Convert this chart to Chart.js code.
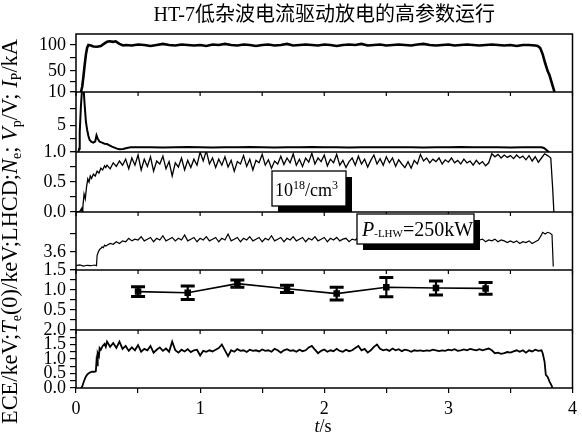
<!DOCTYPE html>
<html><head><meta charset="utf-8">
<script src="https://cdn.jsdelivr.net/npm/chart.js@4/dist/chart.umd.min.js"></script>
<style>html,body{margin:0;padding:0;background:#fff;}#wrap{width:582px;height:441px;}</style>
</head><body><div id="wrap"><canvas id="c" width="582" height="441"></canvas></div>
<script>
// ---------- text ----------
const chartTitle = 'HT-7低杂波电流驱动放电的高参数运行';

// ---------- x axis ----------
const xTicks = [0, 0.5, 1, 1.5, 2, 2.5, 3, 3.5, 4];
const xTickLabels = ['0', '', '1', '', '2', '', '3', '', '4'];

// ---------- y ticks per panel ----------
const ipTicks = [10, 30, 50, 75, 100];
const ipTickLabels = ['', '', '50', '', '100'];
const vpTicks = [1, 3, 5, 7.5, 10];
const vpTickLabels = ['1.0', '', '5', '', '10'];
const neTicks = [0, 0.25, 0.5, 0.75, 1];
const neTickLabels = ['0.0', '', '0.5', '', ''];
const lhTicks = [1.5, 3.6, 5.7];
const lhTickLabels = ['1.5', '3.6', ''];
const teTicks = [0, 0.25, 0.5, 0.75, 1, 1.25, 1.5];
const teTickLabels = ['', '', '0.5', '', '1.0', '', ''];
const eceTicks = [0, 0.25, 0.5, 0.75, 1, 1.25, 1.5, 1.75, 2];
const eceTickLabels = ['0.0', '', '0.5', '', '1.0', '', '1.5', '', '2.0'];

// ---------- Ip (kA) ----------
const ipEarly = [[0.04,10],[0.05,20],[0.06,40],[0.07,62],[0.08,82],[0.09,95],[0.1,100],[0.12,99],[0.14,97],[0.17,96.5],[0.2,98],[0.23,103],[0.25,106],[0.27,107],[0.3,106],[0.32,107],[0.35,102],[0.38,99]];
const ipPlateauStart = 0.4, ipPlateauStep = 0.05;
const ipPlateau = [
 100,99,101,100,98,100,102,100,99,101,
 100,99,100,98,101,100,102,100,99,101,
 100,98,100,101,99,100,102,99,100,101,
 100,99,101,100,98,100,101,100,102,99,
 100,101,99,100,101,100,99,101,102,100,
 99,100,101,99,100,101,100,99,100,101,
 100,99,100,98,100,100,99];
const ipEnd = [[3.72,98],[3.74,94],[3.76,82],[3.78,65],[3.8,50],[3.815,42],[3.83,30],[3.845,18],[3.855,10]];

// ---------- Vp (V) ----------
const vpEarly = [[0.02,1.0],[0.025,1.5],[0.03,4],[0.04,8],[0.05,10.8],[0.06,10.8],[0.07,8],[0.08,5.5],[0.09,4.3],[0.1,3.4],[0.11,2.8],[0.125,2.5],[0.14,2.4],[0.155,2.6],[0.165,3.5],[0.175,3.0],[0.19,2.55],[0.21,2.4],[0.23,2.25],[0.25,2.2],[0.27,2.0],[0.29,1.8],[0.31,1.65],[0.33,1.5],[0.35,1.4],[0.38,1.45],[0.41,1.6],[0.44,1.7]];
const vpPlateauStart = 0.5, vpPlateauStep = 0.1;
const vpPlateau = [1.7,1.72,1.68,1.7,1.75,1.7,1.68,1.72,1.7,1.74,1.7,1.68,1.72,1.7,1.75,1.7,1.72,1.68,1.7,1.73,1.7,1.72,1.7,1.68,1.72,1.7,1.74,1.7,1.72,1.7,1.68,1.72,1.7];
const vpEnd = [[3.75,1.72],[3.77,1.6],[3.79,1.3],[3.81,1.0]];

// ---------- Ne (10^18/cm^3) ----------
const neEarly = [[0.0,0],[0.03,0.01],[0.045,0.06],[0.05,-0.03],[0.055,0.08],[0.065,0.3],[0.075,0.22],[0.085,0.42],[0.095,0.55],[0.105,0.5],[0.115,0.6],[0.125,0.56],[0.14,0.63],[0.155,0.6],[0.17,0.68],[0.185,0.65],[0.2,0.73],[0.215,0.7],[0.23,0.77],[0.24,0.74]];
const nePlateauStart = 0.25, nePlateauStep = 0.025;
const nePlateau = [
 0.78,0.72,0.82,0.76,0.85,0.78,0.88,0.72,0.9,0.78,
 0.95,0.7,0.88,0.76,0.92,0.68,0.85,0.8,0.93,0.72,
 0.84,0.6,0.82,0.75,0.9,0.7,0.86,0.74,0.88,0.78,
 1.0,0.85,1.02,0.8,0.9,0.74,0.88,0.78,0.92,0.75,
 0.86,0.68,0.84,0.8,0.94,0.76,0.88,0.7,0.86,0.82,
 0.96,0.78,0.87,0.73,0.85,0.8,0.93,0.79,0.9,0.82,
 0.97,0.78,0.88,0.76,0.9,0.83,0.98,0.8,0.9,0.84,
 0.95,0.77,0.88,0.82,0.96,0.78,0.86,0.74,0.84,0.9,
 0.78,0.93,0.8,0.88,0.75,0.86,0.95,0.8,0.89,0.78,
 0.92,0.82,0.9,0.76,0.87,0.8,0.74,0.84,0.73,0.86,
 0.8,0.96,0.85,0.9,0.82,0.88,0.84,0.9,0.8,0.87,
 0.83,0.9,0.82,0.86,0.8,0.88,0.82,0.85,0.78,0.86,
 0.8,0.84,0.77,0.82,0.97,0.92,0.96,0.9,0.95,0.91,
 0.94,0.89,0.95,0.9,0.93,0.87,0.94,0.85,0.92,0.83];
const neEnd = [[3.75,0.9],[3.775,0.97],[3.8,0.94],[3.825,0.9],[3.84,0.4],[3.85,0]];

// ---------- LHCD ----------
const lhEarly = [[0,2.0],[0.03,2.1],[0.06,1.95],[0.09,2.05],[0.12,2.0],[0.15,2.08],[0.165,2.0],[0.17,3.2],[0.18,3.6],[0.19,3.9],[0.2,4.0],[0.21,4.2],[0.22,4.1],[0.23,4.4],[0.24,4.3]];
const lhPlateauStart = 0.25, lhPlateauStep = 0.025;
const lhPlateau = [
 4.4,4.6,4.5,4.8,4.6,4.9,4.8,5.2,4.9,5.1,
 5.0,5.4,4.9,5.1,5.3,4.8,5.2,5.0,5.5,4.9,
 5.1,5.3,4.9,5.2,5.0,5.6,4.9,5.1,5.3,4.8,
 5.2,5.0,5.4,4.9,5.1,5.3,4.8,5.2,5.0,5.7,
 4.9,5.1,5.3,4.8,5.2,5.0,5.4,4.9,5.1,5.3,
 4.8,5.2,5.0,5.5,4.9,5.1,5.3,4.8,5.2,5.0,
 5.4,4.9,5.1,5.3,4.8,5.2,5.0,5.4,4.9,5.1,
 5.3,4.8,5.2,5.0,5.3,4.9,5.1,5.2,4.8,5.1,
 5.0,5.3,4.9,5.1,5.2,4.8,5.1,5.0,5.3,4.9,
 5.1,5.2,4.8,5.1,5.0,5.3,4.9,5.1,5.2,4.8,
 5.1,5.0,5.3,4.9,5.1,5.2,4.8,5.1,5.0,5.2,
 4.9,5.1,5.0,5.2,4.8,5.0,5.1,4.9,5.2,4.8,
 5.0,5.1,4.8,5.0,4.9,5.1,4.8,5.0,4.9,4.7,
 4.9,4.7,4.9,4.6,4.8,4.7,4.9,4.6,4.8,5.0];
const lhEnd = [[3.75,5.6],[3.76,5.9],[3.78,5.7],[3.8,5.9],[3.82,5.8],[3.835,5.6],[3.845,1.9]];

// ---------- Te(0) (keV) with error bars ----------
const teTimes = [0.5, 0.9, 1.3, 1.7, 2.1, 2.5, 2.9, 3.3];
const teValues = [0.96, 0.93, 1.16, 1.03, 0.91, 1.07, 1.05, 1.04];
const teErrors = [0.12, 0.17, 0.09, 0.09, 0.16, 0.24, 0.175, 0.145];

// ---------- ECE (keV) ----------
const eceEarly = [[0.04,0],[0.05,0.05],[0.06,0.18],[0.07,0.3],[0.08,0.4],[0.09,0.46],[0.1,0.5],[0.115,0.54],[0.13,0.56],[0.15,0.56],[0.16,0.58],[0.165,0.92],[0.17,0.78],[0.175,1.2],[0.185,1.1],[0.19,1.38],[0.2,1.32],[0.215,1.45],[0.23,1.52],[0.24,1.42]];
const ecePlateauStart = 0.25, ecePlateauStep = 0.025;
const ecePlateau = [
 1.6,1.42,1.55,1.38,1.6,1.35,1.45,1.28,1.4,1.3,
 1.48,1.25,1.35,1.3,1.45,1.22,1.32,1.4,1.28,1.36,
 1.25,1.6,1.3,1.22,1.32,1.26,1.34,1.24,1.3,1.32,
 1.12,1.28,1.25,1.3,1.26,1.32,1.38,1.5,1.3,1.1,
 1.3,1.25,1.34,1.28,1.3,1.24,1.32,1.28,1.3,1.26,
 1.33,1.28,1.3,1.25,1.35,1.3,1.22,1.3,1.34,1.28,
 1.3,1.25,1.32,1.27,1.3,1.4,1.45,1.32,1.2,1.28,
 1.33,1.25,1.3,1.27,1.35,1.28,1.25,1.32,1.27,1.3,
 1.38,1.45,1.3,1.35,1.22,1.3,1.42,1.5,1.35,1.3,
 1.33,1.28,1.36,1.3,1.34,1.27,1.32,1.3,1.25,1.3,
 1.28,1.3,1.27,1.3,1.28,1.32,1.3,1.27,1.3,1.28,
 1.32,1.3,1.34,1.28,1.3,1.33,1.3,1.35,1.32,1.3,
 1.34,1.3,1.33,1.36,1.3,1.2,1.22,1.18,1.2,1.24,
 1.22,1.26,1.3,1.25,1.3,1.22,1.3,1.26,1.32,1.28];
const eceEnd = [[3.75,1.3],[3.76,1.2],[3.775,0.9],[3.785,0.45],[3.8,0.38],[3.815,0.22],[3.83,0.1],[3.84,0]];

// ---------- build point lists ----------
function trace(early, start, step, vals, end) {
  const mid = vals.map((v, i) => [Math.round((start + i * step) * 1000) / 1000, v]);
  return early.concat(mid, end).map(p => ({x: p[0], y: p[1]}));
}
const ipData = trace(ipEarly, ipPlateauStart, ipPlateauStep, ipPlateau, ipEnd);
const vpData = trace(vpEarly, vpPlateauStart, vpPlateauStep, vpPlateau, vpEnd);
const neData = trace(neEarly, nePlateauStart, nePlateauStep, nePlateau, neEnd);
const lhData = trace(lhEarly, lhPlateauStart, lhPlateauStep, lhPlateau, lhEnd);
const eceData = trace(eceEarly, ecePlateauStart, ecePlateauStep, ecePlateau, eceEnd);
const teData = teTimes.map((t, i) => ({x: t, y: teValues[i]}));

const SERIF = '"Liberation Serif", "Times New Roman", serif';
const tickFont = {family: SERIF, size: 18};

function yAxis(min, max, ticks, labels, weight, h) {
  return {
    type: 'linear', position: 'left', stack: 'panels', stackWeight: h, weight: weight,
    min: min, max: max,
    afterFit: s => { s.width = 76; },
    afterBuildTicks: s => { s.ticks = ticks.map(v => ({value: v})); },
    ticks: {autoSkip: false, color: '#000', font: tickFont, padding: 4,
      callback: (v, i) => labels[i]},
    grid: {drawOnChartArea: false, drawTicks: true, tickLength: 6, color: '#000', lineWidth: 1.2},
    border: {display: false}
  };
}

const decor = {
  id: 'decor',
  beforeDraw(chart) {
    const c = chart.ctx;
    c.save(); c.fillStyle = '#fff'; c.fillRect(0, 0, chart.width, chart.height); c.restore();
  },
  afterDatasetsDraw(chart) {
    const c = chart.ctx, a = chart.chartArea, s = chart.scales;
    c.save();
    c.strokeStyle = '#000';
    teTimes.forEach((t, i) => {
      const x = s.x.getPixelForValue(t);
      const y1 = s.yTe.getPixelForValue(teValues[i] + teErrors[i]);
      const y2 = s.yTe.getPixelForValue(teValues[i] - teErrors[i]);
      c.lineWidth = 2.2;
      c.beginPath(); c.moveTo(x, y1); c.lineTo(x, y2); c.stroke();
      c.lineWidth = 3;
      c.beginPath(); c.moveTo(x - 7, y1); c.lineTo(x + 7, y1); c.moveTo(x - 7, y2); c.lineTo(x + 7, y2); c.stroke();
    });
    c.lineWidth = 1.5;
    c.strokeRect(a.left, a.top, a.right - a.left, a.bottom - a.top);
    ['yIp', 'yVp', 'yNe', 'yLH', 'yTe'].forEach(id => {
      const y = s[id].bottom;
      c.beginPath(); c.moveTo(a.left, y); c.lineTo(a.right, y); c.stroke();
    });
    c.lineWidth = 1.2;
    ['yIp', 'yNe', 'yLH', 'yTe'].forEach(id => {
      const y = s[id].bottom;
      xTicks.forEach(v => {
        const x = s.x.getPixelForValue(v);
        c.beginPath(); c.moveTo(x, y); c.lineTo(x, y + 4); c.stroke();
      });
    });
    function box(x, y, w, h) {
      c.fillStyle = '#000'; c.fillRect(x + 6, y + 6, w, h);
      c.fillStyle = '#fff'; c.fillRect(x, y, w, h);
      c.lineWidth = 1.3; c.strokeStyle = '#000'; c.strokeRect(x, y, w, h);
    }
    function runs(x, parts) {
      c.textAlign = 'left'; c.textBaseline = 'alphabetic'; c.fillStyle = '#000';
      parts.forEach(p => { c.font = p[1]; c.fillText(p[0], x, p[2]); x += c.measureText(p[0]).width; });
    }
    box(272, 171, 74, 35);
    runs(275, [['10', '18px ' + SERIF, 196], ['18', '12px ' + SERIF, 189], ['/cm', '18px ' + SERIF, 196], ['3', '12px ' + SERIF, 189]]);
    box(357, 214, 117, 30);
    runs(362, [['P', 'italic 20px ' + SERIF, 236], ['-LHW', '11px ' + SERIF, 237], ['=250kW', '20px ' + SERIF, 236]]);
    c.restore();
  },
  afterDraw(chart) {
    const c = chart.ctx, a = chart.chartArea;
    c.save();
    c.fillStyle = '#000';
    c.font = '20px "Liberation Serif", "Noto Sans CJK SC", serif';
    c.textAlign = 'center'; c.textBaseline = 'alphabetic';
    c.fillText(chartTitle, (a.left + a.right) / 2, 21);
    c.textAlign = 'left';
    const tPart = 't', sPart = '/s';
    c.font = 'italic 18px ' + SERIF; const w1 = c.measureText(tPart).width;
    c.font = '18px ' + SERIF; const w2 = c.measureText(sPart).width;
    let x0 = 323 - (w1 + w2) / 2;
    c.font = 'italic 18px ' + SERIF; c.fillText(tPart, x0, 432);
    c.font = '18px ' + SERIF; c.fillText(sPart, x0 + w1, 432);
    const segs = [['ECE/keV;', 'n'], ['T', 'i'], ['e', 's'], ['(0)/keV;LHCD;', 'n'], ['N', 'i'], ['e', 's'], ['; ', 'n'], ['V', 'i'], ['p', 's'], ['/V; ', 'n'], ['I', 'i'], ['P', 's'], ['/kA', 'n']];
    const fontFor = (k, sz) => k === 'i' ? 'italic ' + sz + 'px ' + SERIF : k === 's' ? Math.round(sz * 0.62) + 'px ' + SERIF : sz + 'px ' + SERIF;
    let size = 17, total = 0;
    segs.forEach(sg => { c.font = fontFor(sg[1], size); total += c.measureText(sg[0]).width; });
    size = size * 386 / total;
    c.translate(17, 424); c.rotate(-Math.PI / 2);
    let px = 0;
    segs.forEach(sg => {
      c.font = fontFor(sg[1], size);
      c.fillText(sg[0], px, sg[1] === 's' ? 4 : 0);
      px += c.measureText(sg[0]).width;
    });
    c.restore();
  }
};

const line = (data, yid, w) => ({data: data, yAxisID: yid, borderColor: '#000', borderWidth: w, pointRadius: 0, tension: 0, fill: false});

new Chart(document.getElementById('c'), {
  type: 'line',
  data: {datasets: [
    line(ipData, 'yIp', 2.6),
    line(vpData, 'yVp', 2),
    line(neData, 'yNe', 1.3),
    line(lhData, 'yLH', 1.2),
    {data: teData, yAxisID: 'yTe', borderColor: '#000', backgroundColor: '#000', borderWidth: 1.6, pointStyle: 'rect', pointRadius: 3.5, tension: 0},
    line(eceData, 'yECE', 1.8)
  ]},
  options: {
    responsive: false, animation: false, devicePixelRatio: 1,
    layout: {padding: {left: 0, right: 8, top: 34, bottom: 0}, autoPadding: false},
    plugins: {legend: {display: false}, tooltip: {enabled: false}, title: {display: false}},
    scales: {
      x: {type: 'linear', position: 'bottom', min: 0, max: 4,
        afterFit: s => { s.height = 53; },
        afterBuildTicks: s => { s.ticks = xTicks.map(v => ({value: v})); },
        ticks: {autoSkip: false, maxRotation: 0, color: '#000', font: {family: SERIF, size: 18}, padding: 5,
          callback: (v, i) => xTickLabels[i]},
        grid: {drawOnChartArea: false, tickLength: 5, color: '#000', lineWidth: 1.2},
        border: {display: false}},
      yECE: yAxis(0, 2, eceTicks, eceTickLabels, 1, 58),
      yTe: yAxis(0, 1.5, teTicks, teTickLabels, 2, 60),
      yLH: yAxis(1.5, 8.27, lhTicks, lhTickLabels, 3, 58),
      yNe: yAxis(0, 1, neTicks, neTickLabels, 4, 60),
      yVp: yAxis(1, 10, vpTicks, vpTickLabels, 5, 60),
      yIp: yAxis(10, 121, ipTicks, ipTickLabels, 6, 58)
    }
  },
  plugins: [decor]
});
</script></body></html>
